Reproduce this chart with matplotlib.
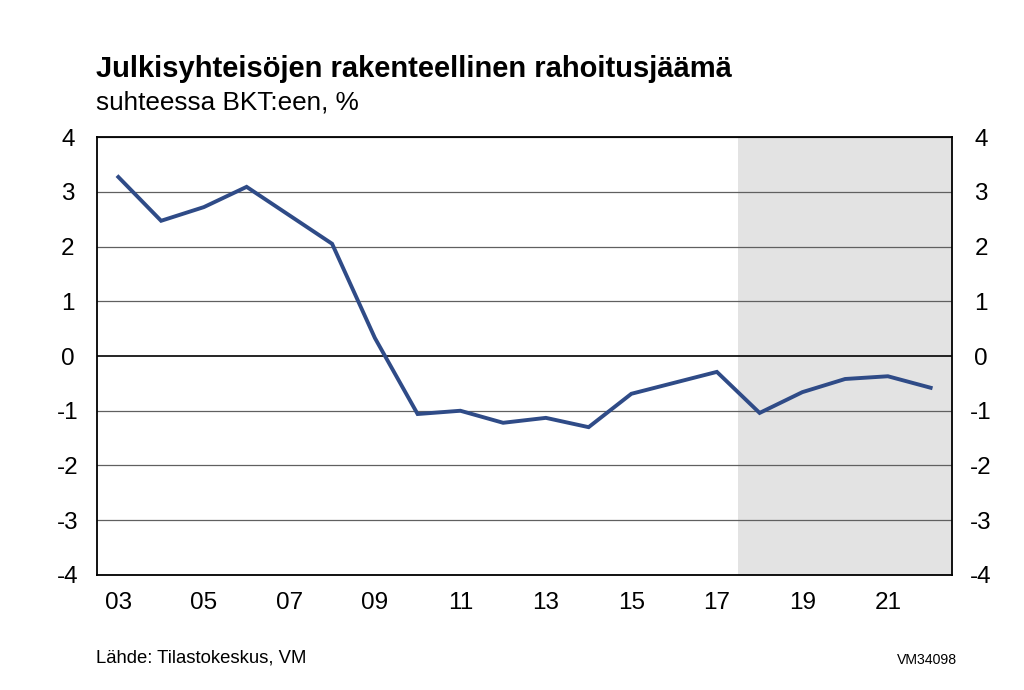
import matplotlib
matplotlib.use('Agg')
import matplotlib.pyplot as plt

plt.rcParams['font.family'] = ['Liberation Sans', 'DejaVu Sans']

years = list(range(2003, 2023))
values = [3.27, 2.47, 2.72, 3.09, 2.57, 2.05, 0.33, -1.06, -1.00, -1.22,
          -1.13, -1.30, -0.69, -0.49, -0.29, -1.04, -0.66, -0.42, -0.37, -0.58]
xtick_years = [2003, 2005, 2007, 2009, 2011, 2013, 2015, 2017, 2019, 2021]
yticks = [-4, -3, -2, -1, 0, 1, 2, 3, 4]
forecast_start = 2017.5

fig = plt.figure(figsize=(10.24, 6.9), dpi=100)
ax = fig.add_axes([0.0947, 0.1667, 0.835, 0.6347])

ax.axvspan(forecast_start, 2022.5, color='#e3e3e3', zorder=0, lw=0)
for y in yticks:
    if y == 0:
        ax.axhline(y, color='black', lw=1.2, zorder=1)
    else:
        ax.axhline(y, color='#606060', lw=0.9, zorder=1)

ax.plot(years, values, color='#2f4b87', lw=2.8, zorder=3, solid_joinstyle='miter')

ax.set_xlim(2002.5, 2022.5)
ax.set_ylim(-4, 4)
ax.set_yticks(yticks)
ax.set_yticklabels([str(v) for v in yticks])
ax.set_xticks(xtick_years)
ax.set_xticklabels(['%02d' % (y % 100) for y in xtick_years])
ax.tick_params(axis='both', length=0, labelsize=17.5)
ax.tick_params(axis='y', pad=21, labelright=True, right=False)
ax.tick_params(axis='x', pad=12)
for lab in ax.get_yticklabels():
    lab.set_horizontalalignment('center')
for s in ax.spines.values():
    s.set_color('black')
    s.set_linewidth(1.3)

fig.text(0.094, 0.9, 'Julkisyhteisöjen rakenteellinen rahoitusjäämä',
         fontsize=21, fontweight='bold', va='center')
fig.text(0.094, 0.851, 'suhteessa BKT:een, %', fontsize=18.8, va='center')
fig.text(0.094, 0.046, 'Lähde: Tilastokeskus, VM', fontsize=13.3, va='center')
fig.text(0.935, 0.043, 'VM34098', fontsize=10.2, va='center', ha='right')

fig.savefig('out.png', dpi=100)
